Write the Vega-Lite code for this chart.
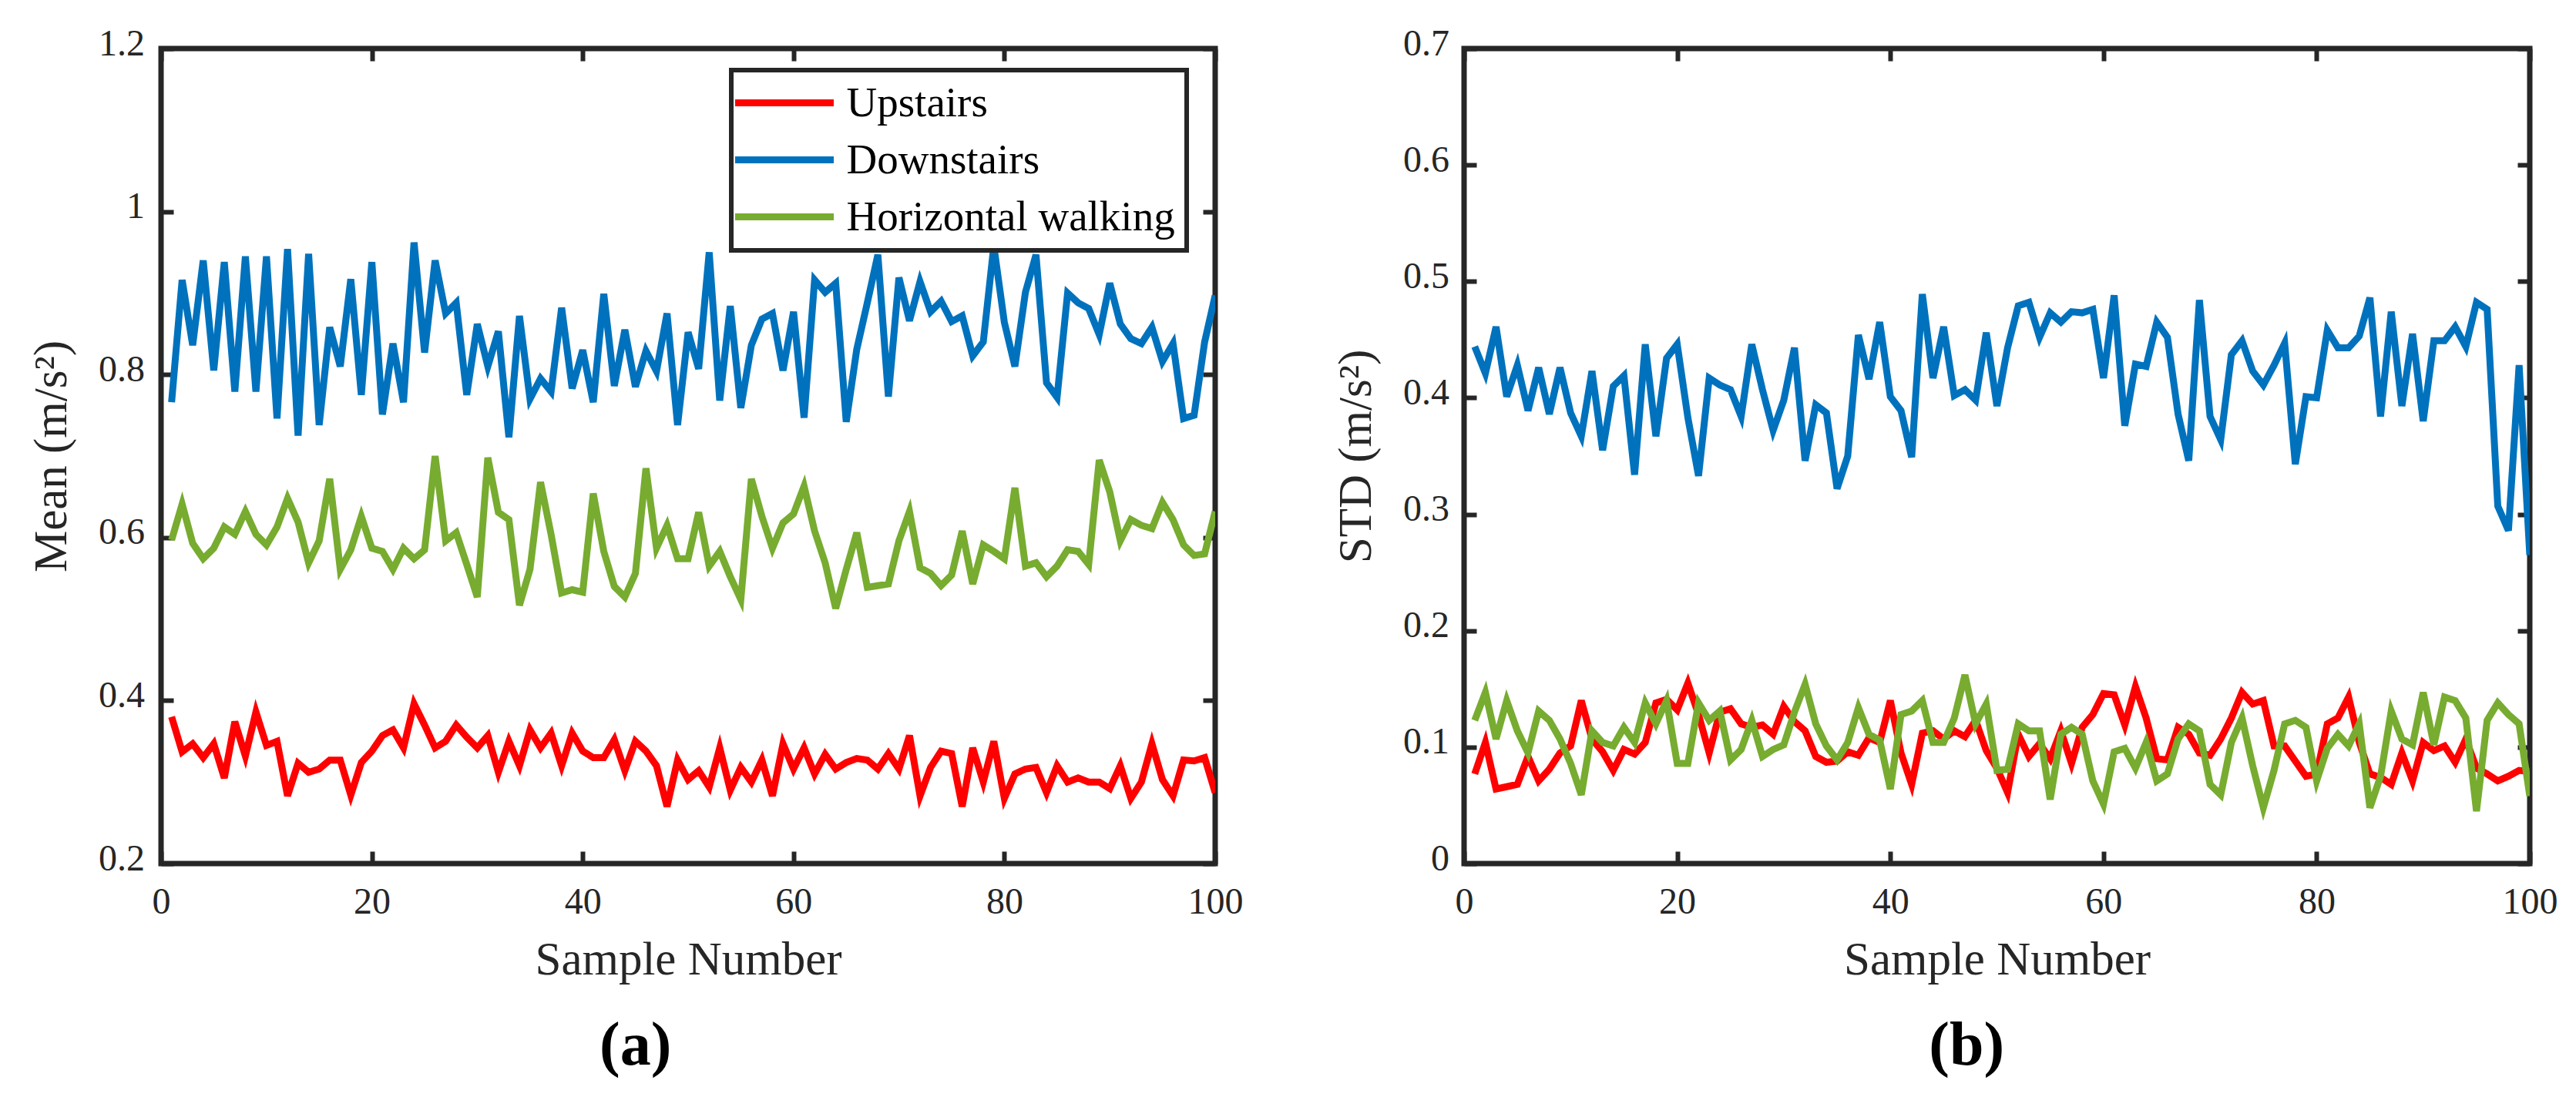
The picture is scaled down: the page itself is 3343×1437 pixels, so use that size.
{
"$schema": "https://vega.github.io/schema/vega-lite/v6.json",
"background": "white",
"padding": {"left": 33, "top": 29, "right": 0, "bottom": 0},
"spacing": 109,
"config": {
  "font": "Liberation Serif",
  "view": {"stroke": "#262626", "strokeWidth": 7},
  "axis": {"grid": false, "domainColor": "#262626", "domainWidth": 6, "tickColor": "#262626", "tickWidth": 6, "labelColor": "#262626", "labelFont": "Liberation Serif", "labelFontSize": 48, "labelFlush": false, "labelOverlap": false, "titleColor": "#262626", "titleFont": "Liberation Serif", "titleFontSize": 61, "titleFontWeight": "normal"},
  "legend": {"labelFont": "Liberation Serif", "labelFontSize": 55, "labelColor": "black", "symbolType": "M-3,0H3", "symbolSize": 1820, "symbolStrokeWidth": 9, "symbolOffset": 26.5, "strokeColor": "#262626", "strokeWidth": 6, "fillColor": "white", "padding": 15, "rowPadding": 18, "labelOffset": 53, "labelLimit": 1000},
  "title": {"font": "Liberation Serif", "fontSize": 80, "fontWeight": "bold", "color": "black"}
},
"datasets": {
"mean": [
{"n":1,"series":"Upstairs","v":0.38},{"n":2,"series":"Upstairs","v":0.337},{"n":3,"series":"Upstairs","v":0.347},{"n":4,"series":"Upstairs","v":0.33},{"n":5,"series":"Upstairs","v":0.347},{"n":6,"series":"Upstairs","v":0.305},{"n":7,"series":"Upstairs","v":0.374},{"n":8,"series":"Upstairs","v":0.332},{"n":9,"series":"Upstairs","v":0.386},{"n":10,"series":"Upstairs","v":0.345},
{"n":11,"series":"Upstairs","v":0.35},{"n":12,"series":"Upstairs","v":0.283},{"n":13,"series":"Upstairs","v":0.323},{"n":14,"series":"Upstairs","v":0.312},{"n":15,"series":"Upstairs","v":0.316},{"n":16,"series":"Upstairs","v":0.327},{"n":17,"series":"Upstairs","v":0.327},{"n":18,"series":"Upstairs","v":0.284},{"n":19,"series":"Upstairs","v":0.324},{"n":20,"series":"Upstairs","v":0.338},
{"n":21,"series":"Upstairs","v":0.357},{"n":22,"series":"Upstairs","v":0.364},{"n":23,"series":"Upstairs","v":0.342},{"n":24,"series":"Upstairs","v":0.396},{"n":25,"series":"Upstairs","v":0.37},{"n":26,"series":"Upstairs","v":0.342},{"n":27,"series":"Upstairs","v":0.35},{"n":28,"series":"Upstairs","v":0.37},{"n":29,"series":"Upstairs","v":0.355},{"n":30,"series":"Upstairs","v":0.342},
{"n":31,"series":"Upstairs","v":0.357},{"n":32,"series":"Upstairs","v":0.312},{"n":33,"series":"Upstairs","v":0.35},{"n":34,"series":"Upstairs","v":0.32},{"n":35,"series":"Upstairs","v":0.364},{"n":36,"series":"Upstairs","v":0.342},{"n":37,"series":"Upstairs","v":0.36},{"n":38,"series":"Upstairs","v":0.32},{"n":39,"series":"Upstairs","v":0.36},{"n":40,"series":"Upstairs","v":0.338},
{"n":41,"series":"Upstairs","v":0.33},{"n":42,"series":"Upstairs","v":0.33},{"n":43,"series":"Upstairs","v":0.352},{"n":44,"series":"Upstairs","v":0.314},{"n":45,"series":"Upstairs","v":0.35},{"n":46,"series":"Upstairs","v":0.338},{"n":47,"series":"Upstairs","v":0.32},{"n":48,"series":"Upstairs","v":0.27},{"n":49,"series":"Upstairs","v":0.327},{"n":50,"series":"Upstairs","v":0.303},
{"n":51,"series":"Upstairs","v":0.314},{"n":52,"series":"Upstairs","v":0.294},{"n":53,"series":"Upstairs","v":0.342},{"n":54,"series":"Upstairs","v":0.29},{"n":55,"series":"Upstairs","v":0.318},{"n":56,"series":"Upstairs","v":0.3},{"n":57,"series":"Upstairs","v":0.327},{"n":58,"series":"Upstairs","v":0.283},{"n":59,"series":"Upstairs","v":0.347},{"n":60,"series":"Upstairs","v":0.316},
{"n":61,"series":"Upstairs","v":0.342},{"n":62,"series":"Upstairs","v":0.31},{"n":63,"series":"Upstairs","v":0.334},{"n":64,"series":"Upstairs","v":0.316},{"n":65,"series":"Upstairs","v":0.324},{"n":66,"series":"Upstairs","v":0.329},{"n":67,"series":"Upstairs","v":0.327},{"n":68,"series":"Upstairs","v":0.316},{"n":69,"series":"Upstairs","v":0.335},{"n":70,"series":"Upstairs","v":0.316},
{"n":71,"series":"Upstairs","v":0.357},{"n":72,"series":"Upstairs","v":0.283},{"n":73,"series":"Upstairs","v":0.318},{"n":74,"series":"Upstairs","v":0.338},{"n":75,"series":"Upstairs","v":0.335},{"n":76,"series":"Upstairs","v":0.27},{"n":77,"series":"Upstairs","v":0.342},{"n":78,"series":"Upstairs","v":0.3},{"n":79,"series":"Upstairs","v":0.35},{"n":80,"series":"Upstairs","v":0.28},
{"n":81,"series":"Upstairs","v":0.31},{"n":82,"series":"Upstairs","v":0.316},{"n":83,"series":"Upstairs","v":0.318},{"n":84,"series":"Upstairs","v":0.287},{"n":85,"series":"Upstairs","v":0.32},{"n":86,"series":"Upstairs","v":0.3},{"n":87,"series":"Upstairs","v":0.305},{"n":88,"series":"Upstairs","v":0.3},{"n":89,"series":"Upstairs","v":0.3},{"n":90,"series":"Upstairs","v":0.292},
{"n":91,"series":"Upstairs","v":0.32},{"n":92,"series":"Upstairs","v":0.28},{"n":93,"series":"Upstairs","v":0.3},{"n":94,"series":"Upstairs","v":0.347},{"n":95,"series":"Upstairs","v":0.303},{"n":96,"series":"Upstairs","v":0.283},{"n":97,"series":"Upstairs","v":0.327},{"n":98,"series":"Upstairs","v":0.326},{"n":99,"series":"Upstairs","v":0.33},{"n":100,"series":"Upstairs","v":0.287},
{"n":1,"series":"Downstairs","v":0.766},{"n":2,"series":"Downstairs","v":0.916},{"n":3,"series":"Downstairs","v":0.836},{"n":4,"series":"Downstairs","v":0.94},{"n":5,"series":"Downstairs","v":0.805},{"n":6,"series":"Downstairs","v":0.938},{"n":7,"series":"Downstairs","v":0.779},{"n":8,"series":"Downstairs","v":0.945},{"n":9,"series":"Downstairs","v":0.779},{"n":10,"series":"Downstairs","v":0.945},
{"n":11,"series":"Downstairs","v":0.746},{"n":12,"series":"Downstairs","v":0.954},{"n":13,"series":"Downstairs","v":0.725},{"n":14,"series":"Downstairs","v":0.948},{"n":15,"series":"Downstairs","v":0.738},{"n":16,"series":"Downstairs","v":0.858},{"n":17,"series":"Downstairs","v":0.81},{"n":18,"series":"Downstairs","v":0.917},{"n":19,"series":"Downstairs","v":0.775},{"n":20,"series":"Downstairs","v":0.938},
{"n":21,"series":"Downstairs","v":0.751},{"n":22,"series":"Downstairs","v":0.838},{"n":23,"series":"Downstairs","v":0.766},{"n":24,"series":"Downstairs","v":0.962},{"n":25,"series":"Downstairs","v":0.827},{"n":26,"series":"Downstairs","v":0.94},{"n":27,"series":"Downstairs","v":0.875},{"n":28,"series":"Downstairs","v":0.888},{"n":29,"series":"Downstairs","v":0.775},{"n":30,"series":"Downstairs","v":0.862},
{"n":31,"series":"Downstairs","v":0.81},{"n":32,"series":"Downstairs","v":0.853},{"n":33,"series":"Downstairs","v":0.723},{"n":34,"series":"Downstairs","v":0.872},{"n":35,"series":"Downstairs","v":0.77},{"n":36,"series":"Downstairs","v":0.795},{"n":37,"series":"Downstairs","v":0.779},{"n":38,"series":"Downstairs","v":0.882},{"n":39,"series":"Downstairs","v":0.783},{"n":40,"series":"Downstairs","v":0.83},
{"n":41,"series":"Downstairs","v":0.766},{"n":42,"series":"Downstairs","v":0.899},{"n":43,"series":"Downstairs","v":0.786},{"n":44,"series":"Downstairs","v":0.855},{"n":45,"series":"Downstairs","v":0.785},{"n":46,"series":"Downstairs","v":0.829},{"n":47,"series":"Downstairs","v":0.804},{"n":48,"series":"Downstairs","v":0.875},{"n":49,"series":"Downstairs","v":0.738},{"n":50,"series":"Downstairs","v":0.852},
{"n":51,"series":"Downstairs","v":0.807},{"n":52,"series":"Downstairs","v":0.95},{"n":53,"series":"Downstairs","v":0.768},{"n":54,"series":"Downstairs","v":0.884},{"n":55,"series":"Downstairs","v":0.759},{"n":56,"series":"Downstairs","v":0.836},{"n":57,"series":"Downstairs","v":0.868},{"n":58,"series":"Downstairs","v":0.875},{"n":59,"series":"Downstairs","v":0.805},{"n":60,"series":"Downstairs","v":0.877},
{"n":61,"series":"Downstairs","v":0.747},{"n":62,"series":"Downstairs","v":0.916},{"n":63,"series":"Downstairs","v":0.901},{"n":64,"series":"Downstairs","v":0.912},{"n":65,"series":"Downstairs","v":0.742},{"n":66,"series":"Downstairs","v":0.831},{"n":67,"series":"Downstairs","v":0.888},{"n":68,"series":"Downstairs","v":0.947},{"n":69,"series":"Downstairs","v":0.773},{"n":70,"series":"Downstairs","v":0.919},
{"n":71,"series":"Downstairs","v":0.866},{"n":72,"series":"Downstairs","v":0.914},{"n":73,"series":"Downstairs","v":0.877},{"n":74,"series":"Downstairs","v":0.89},{"n":75,"series":"Downstairs","v":0.865},{"n":76,"series":"Downstairs","v":0.872},{"n":77,"series":"Downstairs","v":0.823},{"n":78,"series":"Downstairs","v":0.84},{"n":79,"series":"Downstairs","v":0.958},{"n":80,"series":"Downstairs","v":0.864},
{"n":81,"series":"Downstairs","v":0.81},{"n":82,"series":"Downstairs","v":0.901},{"n":83,"series":"Downstairs","v":0.947},{"n":84,"series":"Downstairs","v":0.79},{"n":85,"series":"Downstairs","v":0.772},{"n":86,"series":"Downstairs","v":0.9},{"n":87,"series":"Downstairs","v":0.888},{"n":88,"series":"Downstairs","v":0.881},{"n":89,"series":"Downstairs","v":0.849},{"n":90,"series":"Downstairs","v":0.912},
{"n":91,"series":"Downstairs","v":0.862},{"n":92,"series":"Downstairs","v":0.844},{"n":93,"series":"Downstairs","v":0.838},{"n":94,"series":"Downstairs","v":0.858},{"n":95,"series":"Downstairs","v":0.816},{"n":96,"series":"Downstairs","v":0.838},{"n":97,"series":"Downstairs","v":0.746},{"n":98,"series":"Downstairs","v":0.75},{"n":99,"series":"Downstairs","v":0.84},{"n":100,"series":"Downstairs","v":0.897},
{"n":1,"series":"Horizontal walking","v":0.597},{"n":2,"series":"Horizontal walking","v":0.641},{"n":3,"series":"Horizontal walking","v":0.593},{"n":4,"series":"Horizontal walking","v":0.574},{"n":5,"series":"Horizontal walking","v":0.587},{"n":6,"series":"Horizontal walking","v":0.613},{"n":7,"series":"Horizontal walking","v":0.604},{"n":8,"series":"Horizontal walking","v":0.632},{"n":9,"series":"Horizontal walking","v":0.604},{"n":10,"series":"Horizontal walking","v":0.591},
{"n":11,"series":"Horizontal walking","v":0.613},{"n":12,"series":"Horizontal walking","v":0.648},{"n":13,"series":"Horizontal walking","v":0.619},{"n":14,"series":"Horizontal walking","v":0.569},{"n":15,"series":"Horizontal walking","v":0.596},{"n":16,"series":"Horizontal walking","v":0.672},{"n":17,"series":"Horizontal walking","v":0.561},{"n":18,"series":"Horizontal walking","v":0.585},{"n":19,"series":"Horizontal walking","v":0.626},{"n":20,"series":"Horizontal walking","v":0.587},
{"n":21,"series":"Horizontal walking","v":0.583},{"n":22,"series":"Horizontal walking","v":0.561},{"n":23,"series":"Horizontal walking","v":0.587},{"n":24,"series":"Horizontal walking","v":0.574},{"n":25,"series":"Horizontal walking","v":0.585},{"n":26,"series":"Horizontal walking","v":0.7},{"n":27,"series":"Horizontal walking","v":0.596},{"n":28,"series":"Horizontal walking","v":0.606},{"n":29,"series":"Horizontal walking","v":0.567},{"n":30,"series":"Horizontal walking","v":0.527},
{"n":31,"series":"Horizontal walking","v":0.698},{"n":32,"series":"Horizontal walking","v":0.631},{"n":33,"series":"Horizontal walking","v":0.622},{"n":34,"series":"Horizontal walking","v":0.517},{"n":35,"series":"Horizontal walking","v":0.561},{"n":36,"series":"Horizontal walking","v":0.668},{"n":37,"series":"Horizontal walking","v":0.604},{"n":38,"series":"Horizontal walking","v":0.532},{"n":39,"series":"Horizontal walking","v":0.536},{"n":40,"series":"Horizontal walking","v":0.533},
{"n":41,"series":"Horizontal walking","v":0.654},{"n":42,"series":"Horizontal walking","v":0.583},{"n":43,"series":"Horizontal walking","v":0.54},{"n":44,"series":"Horizontal walking","v":0.527},{"n":45,"series":"Horizontal walking","v":0.556},{"n":46,"series":"Horizontal walking","v":0.685},{"n":47,"series":"Horizontal walking","v":0.587},{"n":48,"series":"Horizontal walking","v":0.615},{"n":49,"series":"Horizontal walking","v":0.574},{"n":50,"series":"Horizontal walking","v":0.574},
{"n":51,"series":"Horizontal walking","v":0.631},{"n":52,"series":"Horizontal walking","v":0.565},{"n":53,"series":"Horizontal walking","v":0.583},{"n":54,"series":"Horizontal walking","v":0.552},{"n":55,"series":"Horizontal walking","v":0.524},{"n":56,"series":"Horizontal walking","v":0.672},{"n":57,"series":"Horizontal walking","v":0.626},{"n":58,"series":"Horizontal walking","v":0.587},{"n":59,"series":"Horizontal walking","v":0.618},{"n":60,"series":"Horizontal walking","v":0.629},
{"n":61,"series":"Horizontal walking","v":0.663},{"n":62,"series":"Horizontal walking","v":0.608},{"n":63,"series":"Horizontal walking","v":0.569},{"n":64,"series":"Horizontal walking","v":0.513},{"n":65,"series":"Horizontal walking","v":0.561},{"n":66,"series":"Horizontal walking","v":0.606},{"n":67,"series":"Horizontal walking","v":0.539},{"n":68,"series":"Horizontal walking","v":0.541},{"n":69,"series":"Horizontal walking","v":0.543},{"n":70,"series":"Horizontal walking","v":0.596},
{"n":71,"series":"Horizontal walking","v":0.632},{"n":72,"series":"Horizontal walking","v":0.563},{"n":73,"series":"Horizontal walking","v":0.556},{"n":74,"series":"Horizontal walking","v":0.541},{"n":75,"series":"Horizontal walking","v":0.554},{"n":76,"series":"Horizontal walking","v":0.608},{"n":77,"series":"Horizontal walking","v":0.543},{"n":78,"series":"Horizontal walking","v":0.591},{"n":79,"series":"Horizontal walking","v":0.583},{"n":80,"series":"Horizontal walking","v":0.574},
{"n":81,"series":"Horizontal walking","v":0.661},{"n":82,"series":"Horizontal walking","v":0.565},{"n":83,"series":"Horizontal walking","v":0.569},{"n":84,"series":"Horizontal walking","v":0.552},{"n":85,"series":"Horizontal walking","v":0.565},{"n":86,"series":"Horizontal walking","v":0.585},{"n":87,"series":"Horizontal walking","v":0.583},{"n":88,"series":"Horizontal walking","v":0.567},{"n":89,"series":"Horizontal walking","v":0.695},{"n":90,"series":"Horizontal walking","v":0.656},
{"n":91,"series":"Horizontal walking","v":0.596},{"n":92,"series":"Horizontal walking","v":0.622},{"n":93,"series":"Horizontal walking","v":0.615},{"n":94,"series":"Horizontal walking","v":0.611},{"n":95,"series":"Horizontal walking","v":0.643},{"n":96,"series":"Horizontal walking","v":0.622},{"n":97,"series":"Horizontal walking","v":0.591},{"n":98,"series":"Horizontal walking","v":0.578},{"n":99,"series":"Horizontal walking","v":0.58},{"n":100,"series":"Horizontal walking","v":0.632}
],
"std": [
{"n":1,"series":"Upstairs","v":0.077},{"n":2,"series":"Upstairs","v":0.104},{"n":3,"series":"Upstairs","v":0.064},{"n":4,"series":"Upstairs","v":0.066},{"n":5,"series":"Upstairs","v":0.068},{"n":6,"series":"Upstairs","v":0.092},{"n":7,"series":"Upstairs","v":0.071},{"n":8,"series":"Upstairs","v":0.081},{"n":9,"series":"Upstairs","v":0.095},{"n":10,"series":"Upstairs","v":0.101},
{"n":11,"series":"Upstairs","v":0.14},{"n":12,"series":"Upstairs","v":0.107},{"n":13,"series":"Upstairs","v":0.096},{"n":14,"series":"Upstairs","v":0.08},{"n":15,"series":"Upstairs","v":0.098},{"n":16,"series":"Upstairs","v":0.094},{"n":17,"series":"Upstairs","v":0.104},{"n":18,"series":"Upstairs","v":0.138},{"n":19,"series":"Upstairs","v":0.141},{"n":20,"series":"Upstairs","v":0.132},
{"n":21,"series":"Upstairs","v":0.155},{"n":22,"series":"Upstairs","v":0.128},{"n":23,"series":"Upstairs","v":0.095},{"n":24,"series":"Upstairs","v":0.13},{"n":25,"series":"Upstairs","v":0.133},{"n":26,"series":"Upstairs","v":0.12},{"n":27,"series":"Upstairs","v":0.117},{"n":28,"series":"Upstairs","v":0.119},{"n":29,"series":"Upstairs","v":0.111},{"n":30,"series":"Upstairs","v":0.135},
{"n":31,"series":"Upstairs","v":0.122},{"n":32,"series":"Upstairs","v":0.114},{"n":33,"series":"Upstairs","v":0.092},{"n":34,"series":"Upstairs","v":0.087},{"n":35,"series":"Upstairs","v":0.088},{"n":36,"series":"Upstairs","v":0.096},{"n":37,"series":"Upstairs","v":0.093},{"n":38,"series":"Upstairs","v":0.108},{"n":39,"series":"Upstairs","v":0.104},{"n":40,"series":"Upstairs","v":0.14},
{"n":41,"series":"Upstairs","v":0.095},{"n":42,"series":"Upstairs","v":0.068},{"n":43,"series":"Upstairs","v":0.112},{"n":44,"series":"Upstairs","v":0.114},{"n":45,"series":"Upstairs","v":0.107},{"n":46,"series":"Upstairs","v":0.114},{"n":47,"series":"Upstairs","v":0.109},{"n":48,"series":"Upstairs","v":0.123},{"n":49,"series":"Upstairs","v":0.097},{"n":50,"series":"Upstairs","v":0.082},
{"n":51,"series":"Upstairs","v":0.061},{"n":52,"series":"Upstairs","v":0.111},{"n":53,"series":"Upstairs","v":0.092},{"n":54,"series":"Upstairs","v":0.103},{"n":55,"series":"Upstairs","v":0.09},{"n":56,"series":"Upstairs","v":0.114},{"n":57,"series":"Upstairs","v":0.086},{"n":58,"series":"Upstairs","v":0.117},{"n":59,"series":"Upstairs","v":0.128},{"n":60,"series":"Upstairs","v":0.146},
{"n":61,"series":"Upstairs","v":0.145},{"n":62,"series":"Upstairs","v":0.119},{"n":63,"series":"Upstairs","v":0.152},{"n":64,"series":"Upstairs","v":0.125},{"n":65,"series":"Upstairs","v":0.09},{"n":66,"series":"Upstairs","v":0.089},{"n":67,"series":"Upstairs","v":0.117},{"n":68,"series":"Upstairs","v":0.111},{"n":69,"series":"Upstairs","v":0.095},{"n":70,"series":"Upstairs","v":0.093},
{"n":71,"series":"Upstairs","v":0.107},{"n":72,"series":"Upstairs","v":0.125},{"n":73,"series":"Upstairs","v":0.147},{"n":74,"series":"Upstairs","v":0.137},{"n":75,"series":"Upstairs","v":0.14},{"n":76,"series":"Upstairs","v":0.101},{"n":77,"series":"Upstairs","v":0.101},{"n":78,"series":"Upstairs","v":0.088},{"n":79,"series":"Upstairs","v":0.075},{"n":80,"series":"Upstairs","v":0.077},
{"n":81,"series":"Upstairs","v":0.12},{"n":82,"series":"Upstairs","v":0.125},{"n":83,"series":"Upstairs","v":0.143},{"n":84,"series":"Upstairs","v":0.104},{"n":85,"series":"Upstairs","v":0.077},{"n":86,"series":"Upstairs","v":0.074},{"n":87,"series":"Upstairs","v":0.068},{"n":88,"series":"Upstairs","v":0.095},{"n":89,"series":"Upstairs","v":0.071},{"n":90,"series":"Upstairs","v":0.104},
{"n":91,"series":"Upstairs","v":0.097},{"n":92,"series":"Upstairs","v":0.101},{"n":93,"series":"Upstairs","v":0.087},{"n":94,"series":"Upstairs","v":0.107},{"n":95,"series":"Upstairs","v":0.082},{"n":96,"series":"Upstairs","v":0.077},{"n":97,"series":"Upstairs","v":0.071},{"n":98,"series":"Upstairs","v":0.075},{"n":99,"series":"Upstairs","v":0.08},{"n":100,"series":"Upstairs","v":0.079},
{"n":1,"series":"Downstairs","v":0.444},{"n":2,"series":"Downstairs","v":0.421},{"n":3,"series":"Downstairs","v":0.461},{"n":4,"series":"Downstairs","v":0.401},{"n":5,"series":"Downstairs","v":0.428},{"n":6,"series":"Downstairs","v":0.389},{"n":7,"series":"Downstairs","v":0.426},{"n":8,"series":"Downstairs","v":0.386},{"n":9,"series":"Downstairs","v":0.426},{"n":10,"series":"Downstairs","v":0.387},
{"n":11,"series":"Downstairs","v":0.367},{"n":12,"series":"Downstairs","v":0.423},{"n":13,"series":"Downstairs","v":0.355},{"n":14,"series":"Downstairs","v":0.41},{"n":15,"series":"Downstairs","v":0.419},{"n":16,"series":"Downstairs","v":0.334},{"n":17,"series":"Downstairs","v":0.446},{"n":18,"series":"Downstairs","v":0.367},{"n":19,"series":"Downstairs","v":0.434},{"n":20,"series":"Downstairs","v":0.446},
{"n":21,"series":"Downstairs","v":0.383},{"n":22,"series":"Downstairs","v":0.333},{"n":23,"series":"Downstairs","v":0.417},{"n":24,"series":"Downstairs","v":0.411},{"n":25,"series":"Downstairs","v":0.407},{"n":26,"series":"Downstairs","v":0.384},{"n":27,"series":"Downstairs","v":0.446},{"n":28,"series":"Downstairs","v":0.407},{"n":29,"series":"Downstairs","v":0.372},{"n":30,"series":"Downstairs","v":0.398},
{"n":31,"series":"Downstairs","v":0.443},{"n":32,"series":"Downstairs","v":0.346},{"n":33,"series":"Downstairs","v":0.394},{"n":34,"series":"Downstairs","v":0.387},{"n":35,"series":"Downstairs","v":0.322},{"n":36,"series":"Downstairs","v":0.35},{"n":37,"series":"Downstairs","v":0.454},{"n":38,"series":"Downstairs","v":0.416},{"n":39,"series":"Downstairs","v":0.465},{"n":40,"series":"Downstairs","v":0.401},
{"n":41,"series":"Downstairs","v":0.389},{"n":42,"series":"Downstairs","v":0.349},{"n":43,"series":"Downstairs","v":0.489},{"n":44,"series":"Downstairs","v":0.417},{"n":45,"series":"Downstairs","v":0.461},{"n":46,"series":"Downstairs","v":0.402},{"n":47,"series":"Downstairs","v":0.407},{"n":48,"series":"Downstairs","v":0.398},{"n":49,"series":"Downstairs","v":0.456},{"n":50,"series":"Downstairs","v":0.393},
{"n":51,"series":"Downstairs","v":0.443},{"n":52,"series":"Downstairs","v":0.479},{"n":53,"series":"Downstairs","v":0.482},{"n":54,"series":"Downstairs","v":0.452},{"n":55,"series":"Downstairs","v":0.473},{"n":56,"series":"Downstairs","v":0.465},{"n":57,"series":"Downstairs","v":0.474},{"n":58,"series":"Downstairs","v":0.473},{"n":59,"series":"Downstairs","v":0.476},{"n":60,"series":"Downstairs","v":0.417},
{"n":61,"series":"Downstairs","v":0.488},{"n":62,"series":"Downstairs","v":0.376},{"n":63,"series":"Downstairs","v":0.429},{"n":64,"series":"Downstairs","v":0.427},{"n":65,"series":"Downstairs","v":0.465},{"n":66,"series":"Downstairs","v":0.452},{"n":67,"series":"Downstairs","v":0.386},{"n":68,"series":"Downstairs","v":0.346},{"n":69,"series":"Downstairs","v":0.484},{"n":70,"series":"Downstairs","v":0.384},
{"n":71,"series":"Downstairs","v":0.364},{"n":72,"series":"Downstairs","v":0.437},{"n":73,"series":"Downstairs","v":0.449},{"n":74,"series":"Downstairs","v":0.423},{"n":75,"series":"Downstairs","v":0.411},{"n":76,"series":"Downstairs","v":0.428},{"n":77,"series":"Downstairs","v":0.447},{"n":78,"series":"Downstairs","v":0.343},{"n":79,"series":"Downstairs","v":0.401},{"n":80,"series":"Downstairs","v":0.4},
{"n":81,"series":"Downstairs","v":0.458},{"n":82,"series":"Downstairs","v":0.443},{"n":83,"series":"Downstairs","v":0.443},{"n":84,"series":"Downstairs","v":0.453},{"n":85,"series":"Downstairs","v":0.486},{"n":86,"series":"Downstairs","v":0.384},{"n":87,"series":"Downstairs","v":0.474},{"n":88,"series":"Downstairs","v":0.393},{"n":89,"series":"Downstairs","v":0.455},{"n":90,"series":"Downstairs","v":0.38},
{"n":91,"series":"Downstairs","v":0.449},{"n":92,"series":"Downstairs","v":0.449},{"n":93,"series":"Downstairs","v":0.461},{"n":94,"series":"Downstairs","v":0.444},{"n":95,"series":"Downstairs","v":0.482},{"n":96,"series":"Downstairs","v":0.476},{"n":97,"series":"Downstairs","v":0.307},{"n":98,"series":"Downstairs","v":0.286},{"n":99,"series":"Downstairs","v":0.428},{"n":100,"series":"Downstairs","v":0.265},
{"n":1,"series":"Horizontal walking","v":0.123},{"n":2,"series":"Horizontal walking","v":0.147},{"n":3,"series":"Horizontal walking","v":0.107},{"n":4,"series":"Horizontal walking","v":0.14},{"n":5,"series":"Horizontal walking","v":0.114},{"n":6,"series":"Horizontal walking","v":0.095},{"n":7,"series":"Horizontal walking","v":0.131},{"n":8,"series":"Horizontal walking","v":0.123},{"n":9,"series":"Horizontal walking","v":0.107},{"n":10,"series":"Horizontal walking","v":0.086},
{"n":11,"series":"Horizontal walking","v":0.059},{"n":12,"series":"Horizontal walking","v":0.114},{"n":13,"series":"Horizontal walking","v":0.104},{"n":14,"series":"Horizontal walking","v":0.101},{"n":15,"series":"Horizontal walking","v":0.117},{"n":16,"series":"Horizontal walking","v":0.104},{"n":17,"series":"Horizontal walking","v":0.138},{"n":18,"series":"Horizontal walking","v":0.12},{"n":19,"series":"Horizontal walking","v":0.14},{"n":20,"series":"Horizontal walking","v":0.086},
{"n":21,"series":"Horizontal walking","v":0.086},{"n":22,"series":"Horizontal walking","v":0.138},{"n":23,"series":"Horizontal walking","v":0.123},{"n":24,"series":"Horizontal walking","v":0.131},{"n":25,"series":"Horizontal walking","v":0.089},{"n":26,"series":"Horizontal walking","v":0.098},{"n":27,"series":"Horizontal walking","v":0.123},{"n":28,"series":"Horizontal walking","v":0.092},{"n":29,"series":"Horizontal walking","v":0.098},{"n":30,"series":"Horizontal walking","v":0.102},
{"n":31,"series":"Horizontal walking","v":0.13},{"n":32,"series":"Horizontal walking","v":0.154},{"n":33,"series":"Horizontal walking","v":0.12},{"n":34,"series":"Horizontal walking","v":0.101},{"n":35,"series":"Horizontal walking","v":0.089},{"n":36,"series":"Horizontal walking","v":0.104},{"n":37,"series":"Horizontal walking","v":0.134},{"n":38,"series":"Horizontal walking","v":0.111},{"n":39,"series":"Horizontal walking","v":0.106},{"n":40,"series":"Horizontal walking","v":0.064},
{"n":41,"series":"Horizontal walking","v":0.128},{"n":42,"series":"Horizontal walking","v":0.131},{"n":43,"series":"Horizontal walking","v":0.14},{"n":44,"series":"Horizontal walking","v":0.104},{"n":45,"series":"Horizontal walking","v":0.104},{"n":46,"series":"Horizontal walking","v":0.125},{"n":47,"series":"Horizontal walking","v":0.162},{"n":48,"series":"Horizontal walking","v":0.12},{"n":49,"series":"Horizontal walking","v":0.137},{"n":50,"series":"Horizontal walking","v":0.08},
{"n":51,"series":"Horizontal walking","v":0.081},{"n":52,"series":"Horizontal walking","v":0.12},{"n":53,"series":"Horizontal walking","v":0.114},{"n":54,"series":"Horizontal walking","v":0.114},{"n":55,"series":"Horizontal walking","v":0.055},{"n":56,"series":"Horizontal walking","v":0.111},{"n":57,"series":"Horizontal walking","v":0.117},{"n":58,"series":"Horizontal walking","v":0.111},{"n":59,"series":"Horizontal walking","v":0.071},{"n":60,"series":"Horizontal walking","v":0.051},
{"n":61,"series":"Horizontal walking","v":0.096},{"n":62,"series":"Horizontal walking","v":0.099},{"n":63,"series":"Horizontal walking","v":0.082},{"n":64,"series":"Horizontal walking","v":0.104},{"n":65,"series":"Horizontal walking","v":0.071},{"n":66,"series":"Horizontal walking","v":0.077},{"n":67,"series":"Horizontal walking","v":0.107},{"n":68,"series":"Horizontal walking","v":0.12},{"n":69,"series":"Horizontal walking","v":0.114},{"n":70,"series":"Horizontal walking","v":0.068},
{"n":71,"series":"Horizontal walking","v":0.059},{"n":72,"series":"Horizontal walking","v":0.104},{"n":73,"series":"Horizontal walking","v":0.125},{"n":74,"series":"Horizontal walking","v":0.084},{"n":75,"series":"Horizontal walking","v":0.048},{"n":76,"series":"Horizontal walking","v":0.08},{"n":77,"series":"Horizontal walking","v":0.12},{"n":78,"series":"Horizontal walking","v":0.123},{"n":79,"series":"Horizontal walking","v":0.117},{"n":80,"series":"Horizontal walking","v":0.071},
{"n":81,"series":"Horizontal walking","v":0.099},{"n":82,"series":"Horizontal walking","v":0.111},{"n":83,"series":"Horizontal walking","v":0.101},{"n":84,"series":"Horizontal walking","v":0.12},{"n":85,"series":"Horizontal walking","v":0.048},{"n":86,"series":"Horizontal walking","v":0.075},{"n":87,"series":"Horizontal walking","v":0.131},{"n":88,"series":"Horizontal walking","v":0.107},{"n":89,"series":"Horizontal walking","v":0.102},{"n":90,"series":"Horizontal walking","v":0.147},
{"n":91,"series":"Horizontal walking","v":0.102},{"n":92,"series":"Horizontal walking","v":0.143},{"n":93,"series":"Horizontal walking","v":0.14},{"n":94,"series":"Horizontal walking","v":0.125},{"n":95,"series":"Horizontal walking","v":0.045},{"n":96,"series":"Horizontal walking","v":0.123},{"n":97,"series":"Horizontal walking","v":0.138},{"n":98,"series":"Horizontal walking","v":0.128},{"n":99,"series":"Horizontal walking","v":0.12},{"n":100,"series":"Horizontal walking","v":0.058}
]
},
"hconcat": [
{
  "width": 1368, "height": 1058,
  "data": {"name": "mean"},
  "title": {"text": "(a)", "orient": "bottom", "anchor": "middle", "frame": "bounds", "offset": 42},
  "layer": [
    {"mark": {"type": "line", "strokeWidth": 9, "clip": true},
     "encoding": {
       "x": {"field": "n", "type": "quantitative", "scale": {"domain": [0, 100], "nice": false}, "axis": {"orient": "bottom", "title": "Sample Number", "values": [0, 20, 40, 60, 80, 100], "ticks": false, "domain": false, "labelPadding": 26.5, "titlePadding": 21}},
       "y": {"field": "v", "type": "quantitative", "scale": {"domain": [0.2, 1.2], "nice": false, "zero": false}, "axis": {"orient": "left", "title": "Mean (m/s²)", "values": [0.2, 0.4, 0.6, 0.8, 1, 1.2], "ticks": false, "domain": false, "labelExpr": "format(datum.value, '~g')", "labelPadding": 21.5, "labelOffset": -6, "titlePadding": 29}},
       "color": {"field": "series", "type": "nominal", "scale": {"domain": ["Upstairs", "Downstairs", "Horizontal walking"], "range": ["#FF0000", "#0072BD", "#77AC30"]}, "legend": {"orient": "none", "legendX": 740, "legendY": 28, "title": null}}
     }},
    {"mark": {"type": "line", "opacity": 0},
     "encoding": {
       "x": {"field": "n", "type": "quantitative", "axis": {"orient": "top", "offset": -1058, "title": null, "labels": false, "domain": false, "tickSize": 16, "values": [0, 20, 40, 60, 80, 100]}},
       "y": {"field": "v", "type": "quantitative", "axis": {"orient": "right", "offset": -1368, "title": null, "labels": false, "domain": false, "tickSize": 16, "values": [0.2, 0.4, 0.6, 0.8, 1, 1.2]}},
       "detail": {"field": "series", "type": "nominal"}
     }},
    {"mark": {"type": "line", "opacity": 0},
     "encoding": {
       "x": {"field": "n", "type": "quantitative", "axis": {"orient": "bottom", "offset": -1058, "title": null, "labels": false, "domain": false, "tickSize": 16, "values": [0, 20, 40, 60, 80, 100]}},
       "y": {"field": "v", "type": "quantitative", "axis": {"orient": "left", "offset": -1368, "title": null, "labels": false, "domain": false, "tickSize": 16, "values": [0.2, 0.4, 0.6, 0.8, 1, 1.2]}},
       "detail": {"field": "series", "type": "nominal"}
     }}
  ],
  "resolve": {"axis": {"x": "independent", "y": "independent"}}
},
{
  "width": 1383, "height": 1058,
  "data": {"name": "std"},
  "title": {"text": "(b)", "orient": "bottom", "anchor": "middle", "frame": "bounds", "offset": 42, "dx": 28},
  "layer": [
    {"mark": {"type": "line", "strokeWidth": 9, "clip": true},
     "encoding": {
       "x": {"field": "n", "type": "quantitative", "scale": {"domain": [0, 100], "nice": false}, "axis": {"orient": "bottom", "title": "Sample Number", "values": [0, 20, 40, 60, 80, 100], "ticks": false, "domain": false, "labelPadding": 26.5, "titlePadding": 21}},
       "y": {"field": "v", "type": "quantitative", "scale": {"domain": [0, 0.7], "nice": false, "zero": false}, "axis": {"orient": "left", "title": "STD (m/s²)", "values": [0, 0.1, 0.2, 0.3, 0.4, 0.5, 0.6, 0.7], "ticks": false, "domain": false, "labelExpr": "format(datum.value, '~g')", "labelPadding": 19.5, "labelOffset": -6, "titlePadding": 29}},
       "color": {"field": "series", "type": "nominal", "scale": {"domain": ["Upstairs", "Downstairs", "Horizontal walking"], "range": ["#FF0000", "#0072BD", "#77AC30"]}, "legend": {"orient": "none", "legendX": 742, "legendY": 29, "title": null}}
     }},
    {"mark": {"type": "line", "opacity": 0},
     "encoding": {
       "x": {"field": "n", "type": "quantitative", "axis": {"orient": "top", "offset": -1058, "title": null, "labels": false, "domain": false, "tickSize": 16, "values": [0, 20, 40, 60, 80, 100]}},
       "y": {"field": "v", "type": "quantitative", "axis": {"orient": "right", "offset": -1383, "title": null, "labels": false, "domain": false, "tickSize": 16, "values": [0, 0.1, 0.2, 0.3, 0.4, 0.5, 0.6, 0.7]}},
       "detail": {"field": "series", "type": "nominal"}
     }},
    {"mark": {"type": "line", "opacity": 0},
     "encoding": {
       "x": {"field": "n", "type": "quantitative", "axis": {"orient": "bottom", "offset": -1058, "title": null, "labels": false, "domain": false, "tickSize": 16, "values": [0, 20, 40, 60, 80, 100]}},
       "y": {"field": "v", "type": "quantitative", "axis": {"orient": "left", "offset": -1383, "title": null, "labels": false, "domain": false, "tickSize": 16, "values": [0, 0.1, 0.2, 0.3, 0.4, 0.5, 0.6, 0.7]}},
       "detail": {"field": "series", "type": "nominal"}
     }}
  ],
  "resolve": {"axis": {"x": "independent", "y": "independent"}}
}
]
}
